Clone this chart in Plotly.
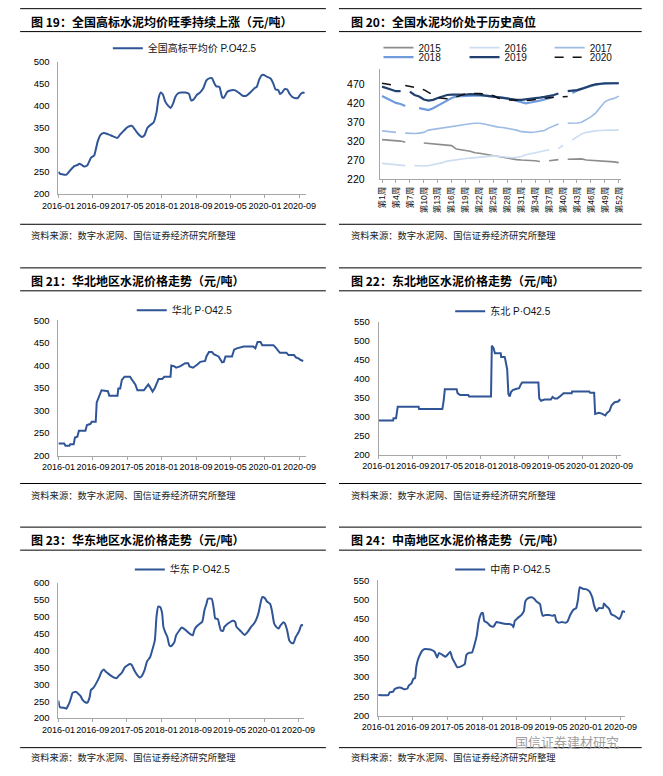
import plotly.graph_objects as go

W, H = 663, 776

# ------------------------------------------------------------------ data
TIME_TICKS = ["2016-01", "2016-09", "2017-05", "2018-01", "2018-09", "2019-05", "2020-01", "2020-09"]

national_dates = [
    "2016-01-01", "2016-01-13", "2016-02-01", "2016-02-25", "2016-03-16", "2016-04-22", "2016-05-13", "2016-05-28",
    "2016-06-16", "2016-07-01", "2016-07-22", "2016-08-19", "2016-09-10", "2016-10-04", "2016-10-25", "2016-11-16",
    "2016-12-19", "2017-01-19", "2017-02-22", "2017-03-13", "2017-04-07", "2017-04-28", "2017-05-22", "2017-06-07",
    "2017-07-04", "2017-07-28", "2017-08-13", "2017-09-01", "2017-09-22", "2017-10-16", "2017-11-04", "2017-11-25",
    "2017-12-10", "2017-12-25", "2018-01-10", "2018-01-25", "2018-02-16", "2018-03-04", "2018-03-22", "2018-04-07",
    "2018-04-25", "2018-05-16", "2018-06-19", "2018-07-13", "2018-07-28", "2018-08-16", "2018-09-07", "2018-09-28",
    "2018-10-22", "2018-11-13", "2018-12-07", "2018-12-22", "2019-01-10", "2019-01-22", "2019-02-13", "2019-03-04",
    "2019-03-16", "2019-04-10", "2019-05-01", "2019-06-04", "2019-07-07", "2019-07-28", "2019-08-22", "2019-09-25",
    "2019-10-19", "2019-11-04", "2019-11-22", "2019-12-10", "2019-12-25", "2020-01-16", "2020-02-10", "2020-03-01",
    "2020-03-16", "2020-04-04", "2020-04-16", "2020-05-01", "2020-05-19", "2020-06-07", "2020-06-22", "2020-07-13",
    "2020-08-07", "2020-08-22", "2020-09-10", "2020-09-28", "2020-10-07",
]
national_values = [
    250, 245, 244, 243, 250, 263, 265, 268,
    265, 262, 264, 282, 287, 318, 334, 338,
    335, 331, 327, 335, 343, 350, 354, 354,
    342, 333, 329, 333, 350, 357, 362, 385,
    418, 430, 425, 410, 400, 395, 405, 420,
    428, 430, 430, 427, 412, 415, 425, 430,
    440, 458, 463, 463, 450, 444, 443, 420,
    418, 432, 435, 435, 428, 423, 423, 432,
    440, 443, 460, 470, 470, 466, 462, 450,
    437, 436, 427, 430, 438, 437, 428, 420,
    417, 418, 427, 430, 429,
]

WEEKS = [1, 2, 3, 4, 5, 6, 7, 8, 9, 10, 11, 12, 13, 14, 15, 16, 17, 18, 19, 20, 21, 22, 23, 24, 25, 26,
         27, 28, 29, 30, 31, 32, 33, 34, 35, 36, 37, 38, 39, 40, 41, 42, 43, 44, 45, 46, 47, 48, 49, 50, 51, 52]
WEEK_TICKS = [1, 4, 7, 10, 13, 16, 19, 22, 25, 28, 31, 34, 37, 40, 43, 46, 49, 52]
WEEK_LABELS = ["第1周", "第4周", "第7周", "第10周", "第13周", "第16周", "第19周", "第22周", "第25周",
               "第28周", "第31周", "第34周", "第37周", "第40周", "第43周", "第46周", "第49周", "第52周"]
YEARS = ["2015", "2016", "2017", "2018", "2019", "2020"]
y2015 = [325, 324, 323, 322, 321, 318, None, None, None, 316, 315, 313, 312, 311, 310, 309, 300, 297, 296, 294,
         290, 289, 287, 285, 282, 280, 277, 275, 273, 272, 271, 271, 270, 269, 267, None, 269, 270, 272, None,
         273, 273, 274, 274, 271, 270, 270, 270, 268, 267, 266, 264]
y2016 = [262, 261, 258, 257, 256, 256, None, 256, 255, 255, 256, 258, 261, 264, 268, 270, 272, 274, 275, 276,
         277, 277, 279, 280, 282, 281, 279, 278, 277, 278, 280, 285, 288, 289, 293, 296, 298, None, 301, 310,
         None, 324, 332, 340, 344, 347, 348, 349, 350, 350, 350, 350]
y2017 = [348, 347, 346, 344, None, 342, 341, 341, 342, 344, 350, 352, 354, 355, 358, 360, 362, 364, 366, 367,
         368, 368, 366, 363, 359, 358, 357, 355, 353, 350, 346, 345, 344, 345, 346, 349, 356, 361, 366, None,
         368, 368, 369, 371, 377, 385, 395, 410, 425, 431, 434, 440]
y2018 = [440, 434, 428, 422, 419, 414, None, None, 408, 405, 403, 408, 414, 420, 428, 435, 439, 440, 441, 441,
         442, 442, 441, 440, 438, 437, 436, 434, 431, 427, 423, 421, 423, 425, 428, 431, 435, 438, None, None,
         None, 448, 455, 460, 463, 467, 470, 472, 473, 474, 474, 474]
y2019 = [465, 461, 455, 453, 453, None, 452, 443, 439, 431, 428, 430, 435, 440, 443, 444, 444, 443, 444, 445,
         445, 444, 442, 440, 438, 436, 434, 432, 431, 430, 430, 431, 433, 434, 436, 438, 440, 443, 447, None,
         453, 454, 456, 459, 464, 468, 471, 473, 474, 474, 474, 474]
y2020 = [474, 473, 470, None, None, 468, 466, 463, 460, 457, 450, 442, 436, 434, 433, 434, 437, 442, 446, 447,
         447, 447, 446, 444, 441, 435, 432, 430, 430, 429, 428, 428, 429, 430, 432, 434, 436, 437, 438, 438,
         439, None, None, None, None, None, None, None, None, None, None, None]

north_dates = [
    "2016-01-01", "2016-02-11", "2016-02-20", "2016-03-19", "2016-03-25", "2016-04-18", "2016-04-27", "2016-05-14",
    "2016-05-25", "2016-07-10", "2016-07-21", "2016-08-13", "2016-08-24", "2016-09-21", "2016-09-28", "2016-10-16",
    "2016-11-01", "2016-12-16", "2016-12-26", "2017-02-22", "2017-02-28", "2017-03-13", "2017-03-25", "2017-04-13",
    "2017-05-22", "2017-06-01", "2017-06-28", "2017-07-13", "2017-08-10", "2017-08-28", "2017-09-13", "2017-09-28",
    "2017-10-10", "2017-10-28", "2017-11-13", "2017-12-01", "2017-12-10", "2018-01-04", "2018-01-19", "2018-03-04",
    "2018-03-10", "2018-04-01", "2018-04-13", "2018-05-10", "2018-05-28", "2018-06-16", "2018-07-07", "2018-07-16",
    "2018-08-10", "2018-08-28", "2018-09-10", "2018-10-01", "2018-11-04", "2018-11-13", "2018-12-01", "2018-12-22",
    "2019-01-04", "2019-02-07", "2019-02-25", "2019-03-04", "2019-03-16", "2019-03-28", "2019-05-13", "2019-05-28",
    "2019-06-16", "2019-07-07", "2019-08-04", "2019-10-10", "2019-10-25", "2019-11-10", "2019-12-01", "2019-12-13",
    "2020-03-01", "2020-03-16", "2020-04-04", "2020-04-16", "2020-06-01", "2020-06-16", "2020-07-25", "2020-08-07",
    "2020-08-28", "2020-09-10", "2020-09-28",
]
north_values = [
    227, 227, 222, 222, 225, 225, 240, 242,
    255, 255, 268, 270, 275, 275, 318, 335,
    345, 343, 333, 333, 349, 349, 368, 375,
    375, 370, 358, 345, 344, 345, 352, 358,
    352, 342, 350, 365, 370, 370, 375, 375,
    400, 398, 395, 398, 402, 405, 405, 398,
    395, 398, 402, 408, 410, 420, 430, 430,
    425, 420, 410, 407, 408, 420, 420, 435,
    438, 440, 442, 442, 438, 452, 452, 445,
    445, 440, 432, 428, 428, 423, 423, 418,
    415, 412, 410,
]

northeast_dates = [
    "2016-01-01", "2016-04-13", "2016-04-16", "2016-05-04", "2016-05-16", "2016-10-13", "2016-10-16", "2017-04-01",
    "2017-04-10", "2017-04-19", "2017-07-13", "2017-07-19", "2017-08-07", "2017-10-04", "2017-10-10", "2018-03-16",
    "2018-03-22", "2018-04-04", "2018-04-13", "2018-05-25", "2018-05-28", "2018-06-22", "2018-06-25", "2018-07-04",
    "2018-07-10", "2018-07-19", "2018-07-28", "2018-08-07", "2018-08-19", "2018-09-10", "2018-10-04", "2018-10-16",
    "2018-10-25", "2019-02-19", "2019-02-25", "2019-03-10", "2019-04-04", "2019-05-19", "2019-06-01", "2019-06-16",
    "2019-07-04", "2019-07-19", "2019-08-04", "2019-08-19", "2019-10-16", "2019-10-19", "2020-02-19", "2020-02-25",
    "2020-03-25", "2020-04-01", "2020-04-28", "2020-05-19", "2020-06-13", "2020-06-25", "2020-07-13", "2020-07-28",
    "2020-08-19", "2020-09-13", "2020-09-28",
]
northeast_values = [
    290, 290, 296, 296, 326, 326, 320, 320,
    340, 372, 372, 362, 357, 357, 353, 353,
    487, 480, 467, 467, 457, 457, 453, 435,
    425, 360, 353, 365, 370, 373, 375, 385,
    390, 390, 348, 342, 345, 345, 352, 348,
    348, 352, 358, 362, 362, 366, 366, 363,
    363, 307, 310, 308, 303, 310, 315, 330,
    338, 340, 346,
]

east_dates = [
    "2016-01-01", "2016-01-12", "2016-02-16", "2016-02-27", "2016-03-07", "2016-03-19", "2016-04-01", "2016-04-11",
    "2016-05-04", "2016-05-19", "2016-06-07", "2016-06-19", "2016-07-10", "2016-07-25", "2016-08-10", "2016-08-19",
    "2016-09-07", "2016-09-28", "2016-10-16", "2016-11-01", "2016-11-19", "2016-12-01", "2016-12-16", "2017-01-10",
    "2017-02-01", "2017-02-16", "2017-03-04", "2017-03-28", "2017-04-16", "2017-05-01", "2017-05-22", "2017-06-04",
    "2017-06-25", "2017-07-13", "2017-08-01", "2017-08-16", "2017-09-04", "2017-09-22", "2017-10-13", "2017-10-28",
    "2017-11-16", "2017-11-28", "2017-12-10", "2017-12-25", "2018-01-07", "2018-01-16", "2018-01-28", "2018-02-13",
    "2018-02-28", "2018-03-13", "2018-04-04", "2018-04-16", "2018-05-10", "2018-05-25", "2018-06-19", "2018-07-16",
    "2018-08-04", "2018-08-13", "2018-08-25", "2018-09-10", "2018-10-04", "2018-10-19", "2018-11-04", "2018-11-19",
    "2018-11-28", "2018-12-25", "2019-01-10", "2019-01-19", "2019-02-07", "2019-02-16", "2019-02-28", "2019-03-16",
    "2019-03-25", "2019-04-13", "2019-05-01", "2019-05-22", "2019-06-10", "2019-06-19", "2019-07-13", "2019-08-04",
    "2019-08-16", "2019-09-07", "2019-10-01", "2019-10-22", "2019-11-07", "2019-11-22", "2019-12-07", "2019-12-19",
    "2020-01-07", "2020-01-22", "2020-02-13", "2020-02-25", "2020-03-13", "2020-03-28", "2020-04-13", "2020-04-28",
    "2020-05-19", "2020-05-28", "2020-06-13", "2020-06-28", "2020-07-13", "2020-07-28", "2020-08-13", "2020-09-04",
    "2020-09-22", "2020-10-04",
]
east_values = [
    252, 232, 230, 228, 235, 245, 262, 275,
    278, 273, 265, 255, 247, 246, 262, 283,
    290, 305, 320, 336, 344, 338, 333, 325,
    320, 318, 325, 335, 350, 355, 360, 358,
    340, 328, 320, 325, 342, 368, 380, 400,
    430, 500, 530, 528, 510, 470, 455, 440,
    415, 413, 425, 445, 460, 468, 462, 452,
    446, 445, 462, 472, 480, 485, 520, 540,
    553, 553, 520, 495, 493, 478, 460, 458,
    470, 478, 483, 488, 485, 470, 460, 450,
    446, 455, 470, 480, 492, 510, 540, 558,
    555, 545, 538, 520, 480, 470, 465, 475,
    484, 480, 460, 430, 423, 422, 440, 455,
    475, 475,
]

central_dates = [
    "2016-01-01", "2016-03-12", "2016-03-22", "2016-04-16", "2016-04-25", "2016-05-19", "2016-06-10", "2016-07-01",
    "2016-07-25", "2016-08-04", "2016-08-22", "2016-09-04", "2016-09-16", "2016-09-25", "2016-10-07", "2016-10-22",
    "2016-11-04", "2016-11-25", "2017-01-10", "2017-02-01", "2017-02-19", "2017-03-04", "2017-03-28", "2017-04-19",
    "2017-05-04", "2017-05-22", "2017-06-04", "2017-06-25", "2017-07-10", "2017-08-10", "2017-09-01", "2017-09-13",
    "2017-10-01", "2017-10-22", "2017-11-10", "2017-11-25", "2017-12-07", "2017-12-16", "2017-12-28", "2018-01-07",
    "2018-01-16", "2018-02-07", "2018-02-28", "2018-03-22", "2018-04-13", "2018-05-07", "2018-05-28", "2018-06-19",
    "2018-07-13", "2018-08-04", "2018-08-10", "2018-08-19", "2018-09-07", "2018-10-04", "2018-10-22", "2018-11-01",
    "2018-11-19", "2018-12-16", "2019-01-01", "2019-01-19", "2019-02-13", "2019-02-22", "2019-03-04", "2019-03-22",
    "2019-04-19", "2019-05-10", "2019-05-28", "2019-06-07", "2019-06-25", "2019-07-16", "2019-08-10", "2019-08-25",
    "2019-09-13", "2019-10-04", "2019-10-25", "2019-11-07", "2019-11-19", "2019-12-10", "2020-01-01", "2020-01-25",
    "2020-02-16", "2020-02-28", "2020-03-16", "2020-04-01", "2020-05-01", "2020-05-07", "2020-05-25", "2020-06-13",
    "2020-06-28", "2020-07-22", "2020-08-13", "2020-08-25", "2020-09-07", "2020-09-16", "2020-10-04",
]
central_values = [
    253, 253, 260, 262, 268, 272, 272, 268,
    270, 278, 283, 295, 297, 325, 345, 358,
    367, 372, 370, 365, 350, 362, 357, 352,
    358, 365, 350, 335, 325, 328, 333, 357,
    362, 363, 385, 408, 440, 455, 465, 465,
    445, 440, 432, 430, 442, 440, 438, 437,
    437, 433, 428, 445, 452, 460, 470, 495,
    503, 506, 503, 495, 488, 470, 458, 460,
    460, 458, 460, 445, 440, 442, 440, 443,
    460, 473, 478, 500, 532, 528, 527, 522,
    505, 485, 470, 478, 478, 490, 483, 476,
    462, 458, 452, 450, 460, 470, 468,
]

TITLES = [
    "图 19：全国高标水泥均价旺季持续上涨（元/吨）",
    "图 20：全国水泥均价处于历史高位",
    "图 21：华北地区水泥价格走势（元/吨）",
    "图 22：东北地区水泥价格走势（元/吨）",
    "图 23：华东地区水泥价格走势（元/吨）",
    "图 24：中南地区水泥价格走势（元/吨）",
]
SOURCE = "资料来源：数字水泥网、国信证券经济研究所整理"
WATERMARK = "国信证券建材研究"

# ------------------------------------------------------------------ styling
MAIN_BLUE = "#2F5597"
AXIS_COLOR = "#A6A6A6"
LAT = "Liberation Sans, Arial, Noto Sans CJK SC"
CJK = "Noto Sans CJK SC"
YEAR_STYLE = {
    "2015": dict(color="#8C8C8C", width=1.6, dash="solid"),
    "2016": dict(color="#CCDDF2", width=1.6, dash="solid"),
    "2017": dict(color="#9DBBE3", width=1.6, dash="solid"),
    "2018": dict(color="#6F9BDC", width=2.2, dash="solid"),
    "2019": dict(color="#22406E", width=2.2, dash="solid"),
    "2020": dict(color="#111111", width=1.5, dash="dash"),
}


def px_x(x):
    return x / W


def px_y(y):
    return 1 - y / H


fig = go.Figure()
xtickfont = dict(family=LAT, size=9, color="#000000")
ytickfont = dict(family=LAT, size=9.5, color="#000000")
legfont = dict(family=LAT, size=10, color="#111111")


def time_xaxis(x0, x1, end):
    return dict(domain=[px_x(x0), px_x(x1)], type="date", range=["2016-01-01", end],
                tickvals=[t + "-01" for t in TIME_TICKS], ticktext=TIME_TICKS, tickangle=0,
                showgrid=False, zeroline=False, showline=True, linecolor=AXIS_COLOR, linewidth=1,
                ticks="outside", ticklen=3, tickcolor=AXIS_COLOR, tickfont=xtickfont, fixedrange=True)


def value_yaxis(ytop, ybot, lo, hi, anchor, standoff=6):
    return dict(domain=[px_y(ybot), px_y(ytop)], range=[lo, hi], tick0=lo, dtick=50,
                showgrid=False, zeroline=False, showline=True, linecolor=AXIS_COLOR, linewidth=1,
                ticks="", tickfont=ytickfont, anchor=anchor, ticklabelstandoff=standoff, fixedrange=True)


def single_legend(line_start, ycenter):
    return dict(x=px_x(line_start - 5), y=px_y(ycenter), xanchor="left", yanchor="middle",
                orientation="h", bgcolor="rgba(0,0,0,0)", font=legfont, itemwidth=30)


# panel 19 – national
fig.add_trace(go.Scatter(x=national_dates, y=national_values, mode="lines", name="全国高标平均价 P.O42.5",
                         line=dict(color=MAIN_BLUE, width=2, shape="spline", smoothing=0.5),
                         xaxis="x", yaxis="y", legend="legend"))
# panel 20 – by year
year_series = [y2015, y2016, y2017, y2018, y2019, y2020]
leg_pos = [(383, 42.3), (473, 42.3), (562, 42.3), (383, 52), (473, 52), (562, 52)]
for i, (yr, vals) in enumerate(zip(YEARS, year_series)):
    st = YEAR_STYLE[yr]
    fig.add_trace(go.Scatter(x=WEEKS, y=vals, mode="lines", name=yr,
                             line=dict(color=st["color"], width=st["width"], dash=st["dash"]),
                             xaxis="x2", yaxis="y2", legend=f"legend{i + 2}"))
# panels 21-24
fig.add_trace(go.Scatter(x=north_dates, y=north_values, mode="lines", name="华北 P·O42.5",
                         line=dict(color=MAIN_BLUE, width=2), xaxis="x3", yaxis="y3", legend="legend8"))
fig.add_trace(go.Scatter(x=northeast_dates, y=northeast_values, mode="lines", name="东北 P·O42.5",
                         line=dict(color=MAIN_BLUE, width=2), xaxis="x4", yaxis="y4", legend="legend9"))
fig.add_trace(go.Scatter(x=east_dates, y=east_values, mode="lines", name="华东 P·O42.5",
                         line=dict(color=MAIN_BLUE, width=2, shape="spline", smoothing=0.5),
                         xaxis="x5", yaxis="y5", legend="legend10"))
fig.add_trace(go.Scatter(x=central_dates, y=central_values, mode="lines", name="中南 P·O42.5",
                         line=dict(color=MAIN_BLUE, width=2, shape="spline", smoothing=0.4),
                         xaxis="x6", yaxis="y6", legend="legend11"))

layout = dict(
    width=W, height=H, margin=dict(l=0, r=0, t=0, b=0),
    paper_bgcolor="white", plot_bgcolor="white", showlegend=True,
    xaxis=dict(time_xaxis(43.3, 302, "2020-10-16"), anchor="y"),
    yaxis=value_yaxis(56.7, 190.7, 200, 500, "x"),
    xaxis2=dict(domain=[px_x(379.3), px_x(631.7)], range=[0.5, 52.5], tickvals=WEEK_TICKS, ticktext=WEEK_LABELS,
                tickangle=-90, showgrid=False, zeroline=False, showline=True, linecolor=AXIS_COLOR, linewidth=1,
                ticks="outside", ticklen=3, tickcolor=AXIS_COLOR,
                tickfont=dict(family=LAT, size=8.5, color="#111111"), anchor="y2", fixedrange=True),
    yaxis2=dict(value_yaxis(64, 176, 220, 220 + (176 - 64) / 0.384, "x2", standoff=12),
                tickvals=[220, 270, 320, 370, 420, 470], tickfont=dict(family=LAT, size=10.5, color="#000000")),
    xaxis3=dict(time_xaxis(43.3, 302, "2020-10-16"), anchor="y3"),
    yaxis3=value_yaxis(319.3, 456.7, 200, 500, "x3"),
    xaxis4=dict(time_xaxis(378.3, 631.7, "2020-10-04"), anchor="y4"),
    yaxis4=value_yaxis(320.7, 455.7, 200, 550, "x4"),
    xaxis5=dict(time_xaxis(43.3, 300, "2020-10-10"), anchor="y5"),
    yaxis5=value_yaxis(586, 723.3, 200, 600, "x5"),
    xaxis6=dict(time_xaxis(377.7, 636, "2020-10-04"), anchor="y6"),
    yaxis6=value_yaxis(583.3, 720.7, 200, 550, "x6"),
    legend=single_legend(100, 43),
    legend8=single_legend(125, 309),
    legend9=single_legend(458, 310),
    legend10=single_legend(123, 572.3),
    legend11=single_legend(458, 572.3),
)
for i, (lx, ly) in enumerate(leg_pos):
    layout[f"legend{i + 2}"] = single_legend(lx, ly)
fig.update_layout(**layout)

# rules, titles and sources
cols = [(3.3, 323.0, 12.7), (336.7, 653.3, 347.5)]
rows = [
    dict(top=2.7, under=26.0, src=221.7, title=15.3, srctext=232.3),
    dict(top=266.0, under=289.3, src=485.0, title=279.3, srctext=496.7),
    dict(top=529.3, under=552.7, src=753.3, title=541.7, srctext=763.3),
]
shapes, annotations = [], []
for r, row in enumerate(rows):
    for c, (x0, x1, tx) in enumerate(cols):
        for key in ("top", "under", "src"):
            shapes.append(dict(type="line", xref="paper", yref="paper", x0=px_x(x0), x1=px_x(x1),
                               y0=px_y(row[key]), y1=px_y(row[key]), line=dict(color="#000000", width=1)))
        annotations.append(dict(xref="paper", yref="paper", x=px_x(tx), y=px_y(row["title"]),
                                xanchor="left", yanchor="middle", showarrow=False,
                                text="<b>" + TITLES[r * 2 + c] + "</b>",
                                font=dict(family=CJK, size=12, color="#000000")))
        annotations.append(dict(xref="paper", yref="paper", x=px_x(tx), y=px_y(row["srctext"]),
                                xanchor="left", yanchor="middle", showarrow=False, text=SOURCE,
                                font=dict(family=CJK, size=9.3, color="#222222")))
annotations.append(dict(xref="paper", yref="paper", x=px_x(520), y=px_y(747), xanchor="left", yanchor="middle",
                        showarrow=False, borderpad=0, text=WATERMARK,
                        font=dict(family=CJK, size=13, color="#A0A0A0")))
fig.update_layout(shapes=shapes, annotations=annotations)

fig.write_html("out.html", config={"displayModeBar": False},
               post_script="document.body.style.margin='0';document.body.style.overflow='hidden';")
